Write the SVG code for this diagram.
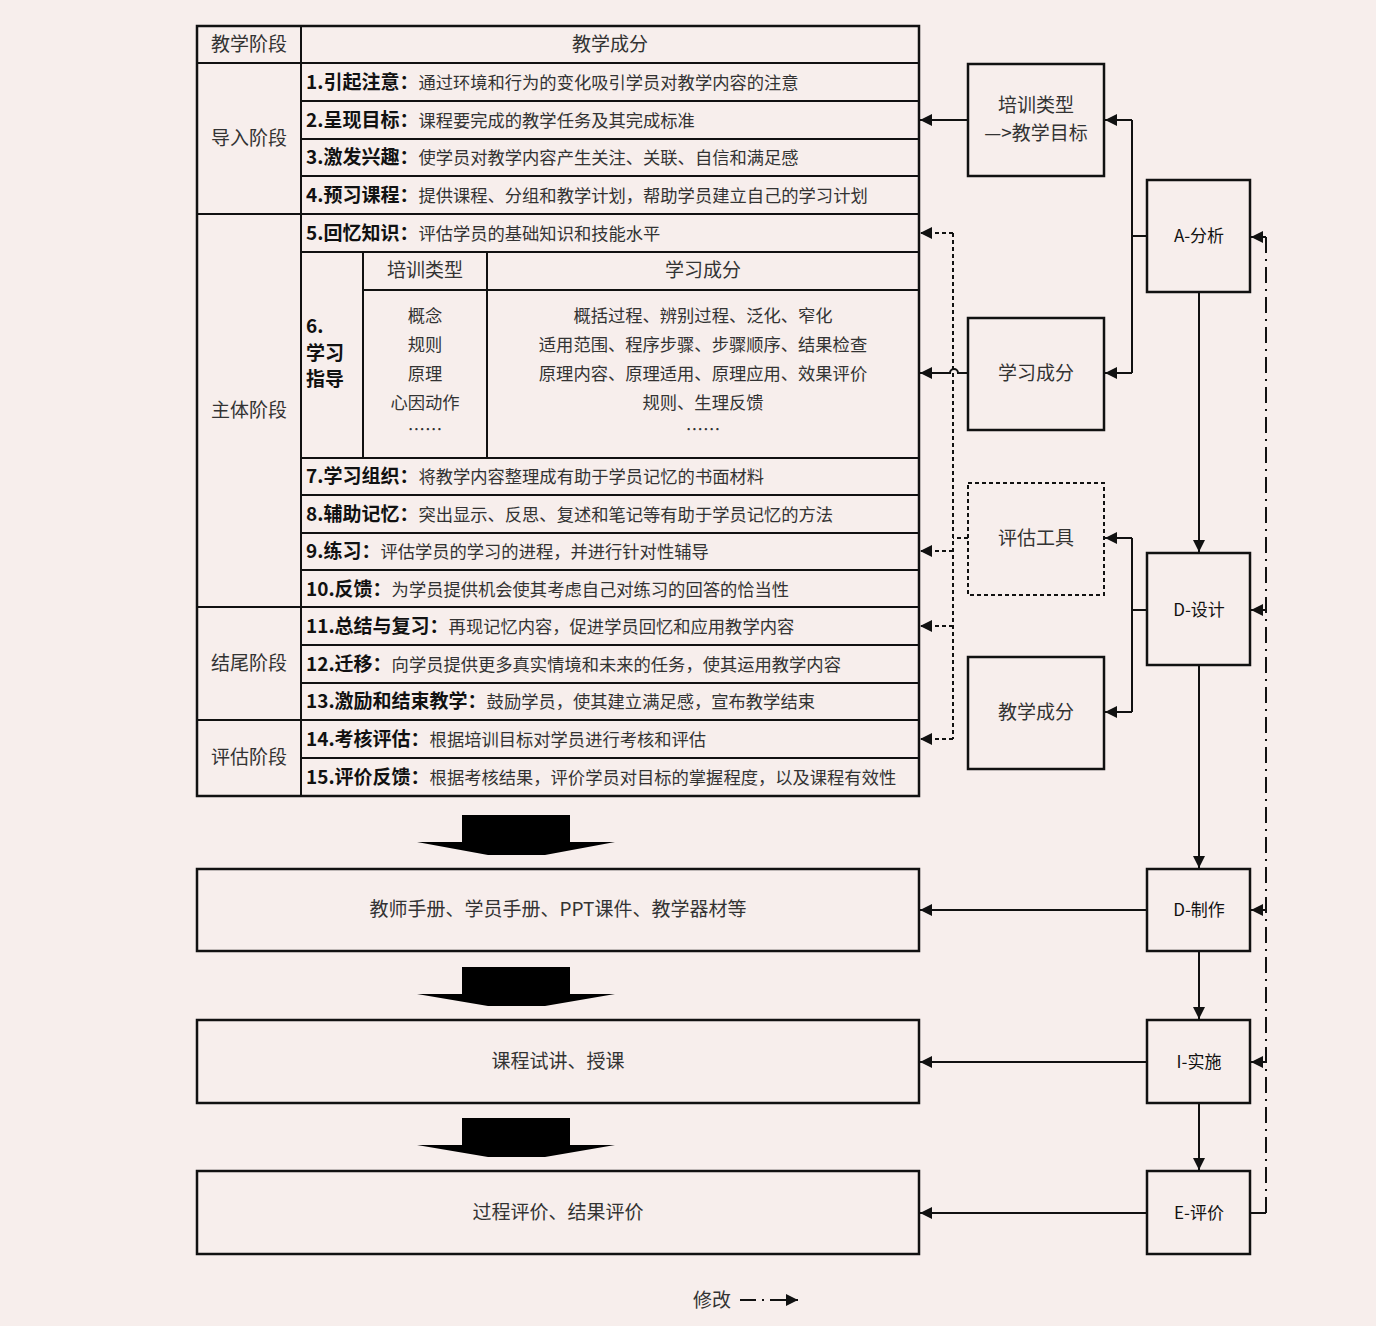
<svg xmlns="http://www.w3.org/2000/svg" width="1376" height="1326" viewBox="0 0 1376 1326">
<style>
text{font-family:"Noto Sans CJK SC","Liberation Sans",sans-serif;fill:#333}
.b{fill:none;stroke:#111;stroke-width:2.5}
.l{stroke:#111;stroke-width:2;fill:none}
.d{stroke:#111;stroke-width:2;fill:none;stroke-dasharray:4 3}
.dd{stroke:#111;stroke-width:2;fill:none;stroke-dasharray:16 6 2 6}
.t{font-size:19px}
.s{font-size:17.3px}
.n{font-size:17px;fill:#111}
.k{font-weight:bold;fill:#111;font-size:19px}
</style>
<defs>
<marker id="m" viewBox="0 0 10 10" refX="10" refY="5" markerWidth="14" markerHeight="12" orient="auto" markerUnits="userSpaceOnUse"><path d="M0,0L10,5L0,10z" fill="#111"/></marker>
</defs>
<rect width="1376" height="1326" fill="#f7eeec"/>
<g id="table">
<rect class="b" x="197" y="26" width="722" height="770"/>
<path class="l" d="M301 26V796M197 63H919M197 214H919M197 607H919M197 720H919M301 101H919M301 139H919M301 176H919M301 252H919M301 458H919M301 495H919M301 533H919M301 570H919M301 645H919M301 683H919M301 758H919M363 252V458M487 252V458M363 290H919"/>
<text class="t" x="249" y="51" text-anchor="middle">教学阶段</text>
<text class="t" x="610" y="51" text-anchor="middle">教学成分</text>
<text class="t" x="249" y="145" text-anchor="middle">导入阶段</text>
<text class="t" x="249" y="417" text-anchor="middle">主体阶段</text>
<text class="t" x="249" y="670" text-anchor="middle">结尾阶段</text>
<text class="t" x="249" y="764" text-anchor="middle">评估阶段</text>
<g class="s">
<text x="306" y="89"><tspan class="k">1.引起注意：</tspan>通过环境和行为的变化吸引学员对教学内容的注意</text>
<text x="306" y="127"><tspan class="k">2.呈现目标：</tspan>课程要完成的教学任务及其完成标准</text>
<text x="306" y="164"><tspan class="k">3.激发兴趣：</tspan>使学员对教学内容产生关注、关联、自信和满足感</text>
<text x="306" y="202"><tspan class="k">4.预习课程：</tspan>提供课程、分组和教学计划，帮助学员建立自己的学习计划</text>
<text x="306" y="240"><tspan class="k">5.回忆知识：</tspan>评估学员的基础知识和技能水平</text>
<text x="306" y="483"><tspan class="k">7.学习组织：</tspan>将教学内容整理成有助于学员记忆的书面材料</text>
<text x="306" y="521"><tspan class="k">8.辅助记忆：</tspan>突出显示、反思、复述和笔记等有助于学员记忆的方法</text>
<text x="306" y="558"><tspan class="k">9.练习：</tspan>评估学员的学习的进程，并进行针对性辅导</text>
<text x="306" y="596"><tspan class="k">10.反馈：</tspan>为学员提供机会使其考虑自己对练习的回答的恰当性</text>
<text x="306" y="633"><tspan class="k">11.总结与复习：</tspan>再现记忆内容，促进学员回忆和应用教学内容</text>
<text x="306" y="671"><tspan class="k">12.迁移：</tspan>向学员提供更多真实情境和未来的任务，使其运用教学内容</text>
<text x="306" y="708"><tspan class="k">13.激励和结束教学：</tspan>鼓励学员，使其建立满足感，宣布教学结束</text>
<text x="306" y="746"><tspan class="k">14.考核评估：</tspan>根据培训目标对学员进行考核和评估</text>
<text x="306" y="784"><tspan class="k">15.评价反馈：</tspan>根据考核结果，评价学员对目标的掌握程度，以及课程有效性</text>
</g>
<text class="k" x="306" y="333">6.</text>
<text class="k" x="306" y="360">学习</text>
<text class="k" x="306" y="386">指导</text>
<text class="t" x="425" y="277" text-anchor="middle">培训类型</text>
<text class="t" x="703" y="277" text-anchor="middle">学习成分</text>
<g class="s" text-anchor="middle">
<text x="425" y="322">概念</text><text x="425" y="351">规则</text><text x="425" y="380">原理</text><text x="425" y="409">心因动作</text><text x="425" y="436">……</text>
<text x="703" y="322">概括过程、辨别过程、泛化、窄化</text>
<text x="703" y="351">适用范围、程序步骤、步骤顺序、结果检查</text>
<text x="703" y="380">原理内容、原理适用、原理应用、效果评价</text>
<text x="703" y="409">规则、生理反馈</text>
<text x="703" y="436">……</text>
</g>
</g>
<g id="n-train"><rect class="b" x="968" y="64" width="136" height="112"/><text class="t" x="1036" y="112" text-anchor="middle">培训类型</text><text class="t" x="1036" y="140" text-anchor="middle">—&gt;教学目标</text></g>
<g id="n-learn"><rect class="b" x="968" y="318" width="136" height="112"/><text class="t" x="1036" y="380" text-anchor="middle">学习成分</text></g>
<g id="n-eval"><rect class="d" stroke-width="2.5" x="968" y="483" width="136" height="112"/><text class="t" x="1036" y="545" text-anchor="middle">评估工具</text></g>
<g id="n-teach"><rect class="b" x="968" y="657" width="136" height="112"/><text class="t" x="1036" y="719" text-anchor="middle">教学成分</text></g>
<g id="n-A"><rect class="b" x="1147" y="180" width="103" height="112"/><text class="n" x="1199" y="242" text-anchor="middle">A-分析</text></g>
<g id="n-D"><rect class="b" x="1147" y="553" width="103" height="112"/><text class="n" x="1199" y="616" text-anchor="middle">D-设计</text></g>
<g id="n-Dm"><rect class="b" x="1147" y="869" width="103" height="82"/><text class="n" x="1199" y="916" text-anchor="middle">D-制作</text></g>
<g id="n-I"><rect class="b" x="1147" y="1020" width="103" height="83"/><text class="n" x="1199" y="1068" text-anchor="middle">I-实施</text></g>
<g id="n-E"><rect class="b" x="1147" y="1171" width="103" height="83"/><text class="n" x="1199" y="1219" text-anchor="middle">E-评价</text></g>
<g id="n-out1"><rect class="b" x="197" y="869" width="722" height="82"/><text class="t" x="558" y="916" text-anchor="middle">教师手册、学员手册、PPT课件、教学器材等</text></g>
<g id="n-out2"><rect class="b" x="197" y="1020" width="722" height="83"/><text class="t" x="558" y="1068" text-anchor="middle">课程试讲、授课</text></g>
<g id="n-out3"><rect class="b" x="197" y="1171" width="722" height="83"/><text class="t" x="558" y="1219" text-anchor="middle">过程评价、结果评价</text></g>
<g id="connectors">
<path class="l" d="M1147 236H1132M1132 120V373" />
<path class="l" marker-end="url(#m)" d="M1132 120H1105"/>
<path class="l" marker-end="url(#m)" d="M1132 373H1105"/>
<path class="l" marker-end="url(#m)" d="M968 120H920"/>
<path class="l" marker-end="url(#m)" d="M968 373H958a4 4 0 0 0 -8 0H920"/>
<path class="l" d="M1147 610H1132M1132 538V712"/>
<path class="l" marker-end="url(#m)" d="M1132 538H1105"/>
<path class="l" marker-end="url(#m)" d="M1132 712H1105"/>
<path class="d" d="M968 538H953M953 233V739"/>
<path class="d" marker-end="url(#m)" d="M953 233H920"/>
<path class="d" marker-end="url(#m)" d="M953 551H920"/>
<path class="d" marker-end="url(#m)" d="M953 626H920"/>
<path class="d" marker-end="url(#m)" d="M953 739H920"/>
<path class="l" marker-end="url(#m)" d="M1199 292V552"/>
<path class="l" marker-end="url(#m)" d="M1199 665V868"/>
<path class="l" marker-end="url(#m)" d="M1199 951V1019"/>
<path class="l" marker-end="url(#m)" d="M1199 1103V1170"/>
<path class="l" marker-end="url(#m)" d="M1147 910H920"/>
<path class="l" marker-end="url(#m)" d="M1147 1062H920"/>
<path class="l" marker-end="url(#m)" d="M1147 1213H920"/>
<path class="l" d="M1250 1213H1266"/>
<path class="dd" d="M1266 1213V237"/>
<path class="l" marker-end="url(#m)" d="M1266 237H1251"/>
<path class="l" marker-end="url(#m)" d="M1266 610H1251"/>
<path class="l" marker-end="url(#m)" d="M1266 910H1251"/>
<path class="l" marker-end="url(#m)" d="M1266 1062H1251"/>
</g>
<g id="bigarrows" fill="#000">
<path d="M462 815H570V842H615L545 855H488L417 842H462z"/>
<path d="M462 967H570V994H615L545 1006H488L417 994H462z"/>
<path d="M462 1118H570V1145H615L545 1157H488L417 1145H462z"/>
</g>
<g id="legend">
<text class="t" x="712" y="1307" text-anchor="middle">修改</text>
<path class="dd" d="M740 1300H785"/>
<path class="l" marker-end="url(#m)" d="M780 1300H798"/>
</g>
</svg>
